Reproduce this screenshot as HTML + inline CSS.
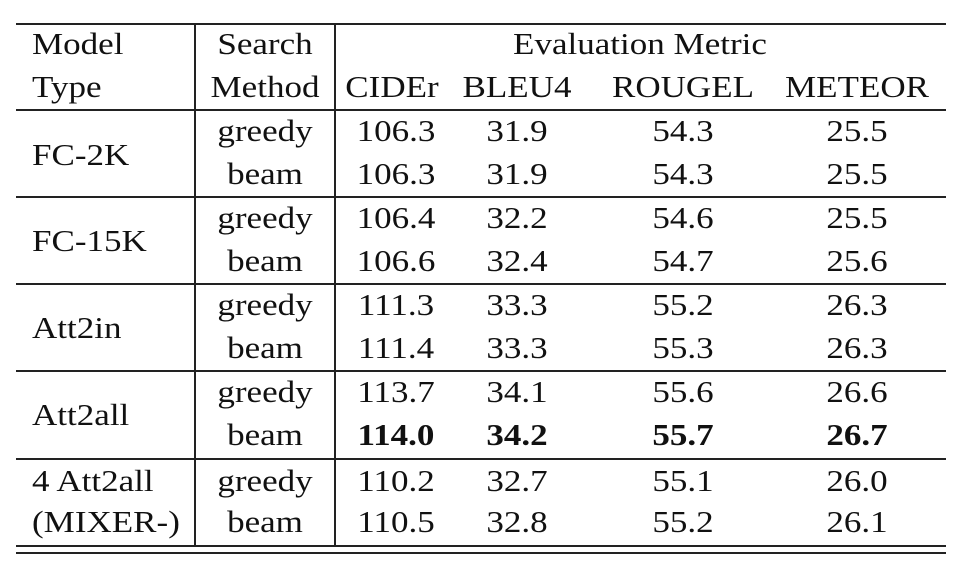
<!DOCTYPE html>
<html><head><style>
body{margin:0;background:#fff;width:964px;height:572px;position:relative;overflow:hidden;font-family:"Liberation Serif",serif;font-size:31px;color:#111}
.l{position:absolute;background:#222}
.t{position:absolute;line-height:30px;white-space:nowrap;transform:translate(-50%,-50%) scaleX(1.13)}
.m{position:absolute;line-height:30px;white-space:nowrap;transform:translateY(-50%) scaleX(1.13);transform-origin:left center;left:32px}
b{font-weight:bold}
</style></head><body>
<div class="l" style="left:16px;top:23px;width:930px;height:2px"></div>
<div class="l" style="left:16px;top:109px;width:930px;height:2px"></div>
<div class="l" style="left:16px;top:196px;width:930px;height:2px"></div>
<div class="l" style="left:16px;top:283px;width:930px;height:2px"></div>
<div class="l" style="left:16px;top:370px;width:930px;height:2px"></div>
<div class="l" style="left:16px;top:458px;width:930px;height:2px"></div>
<div class="l" style="left:16px;top:545px;width:930px;height:2px"></div>
<div class="l" style="left:16px;top:552px;width:930px;height:2px"></div>
<div class="l" style="left:194px;top:23px;width:2px;height:523px"></div>
<div class="l" style="left:334px;top:23px;width:2px;height:523px"></div>

<div class="m" style="top:44px">Model</div>
<div class="m" style="top:87px">Type</div>
<div class="t" style="left:265px;top:44px">Search</div>
<div class="t" style="left:265px;top:87px">Method</div>
<div class="t" style="left:640px;top:44px">Evaluation Metric</div>
<div class="t" style="left:392px;top:87px">CIDEr</div>
<div class="t" style="left:517px;top:87px">BLEU4</div>
<div class="t" style="left:683px;top:87px">ROUGEL</div>
<div class="t" style="left:857px;top:87px">METEOR</div>

<div class="m" style="top:155px">FC-2K</div>
<div class="t" style="left:265px;top:131px">greedy</div>
<div class="t" style="left:265px;top:174px">beam</div>
<div class="t" style="left:396px;top:131px">106.3</div><div class="t" style="left:517px;top:131px">31.9</div><div class="t" style="left:683px;top:131px">54.3</div><div class="t" style="left:857px;top:131px">25.5</div>
<div class="t" style="left:396px;top:174px">106.3</div><div class="t" style="left:517px;top:174px">31.9</div><div class="t" style="left:683px;top:174px">54.3</div><div class="t" style="left:857px;top:174px">25.5</div>

<div class="m" style="top:241px">FC-15K</div>
<div class="t" style="left:265px;top:218px">greedy</div>
<div class="t" style="left:265px;top:261px">beam</div>
<div class="t" style="left:396px;top:218px">106.4</div><div class="t" style="left:517px;top:218px">32.2</div><div class="t" style="left:683px;top:218px">54.6</div><div class="t" style="left:857px;top:218px">25.5</div>
<div class="t" style="left:396px;top:261px">106.6</div><div class="t" style="left:517px;top:261px">32.4</div><div class="t" style="left:683px;top:261px">54.7</div><div class="t" style="left:857px;top:261px">25.6</div>

<div class="m" style="top:328px">Att2in</div>
<div class="t" style="left:265px;top:305px">greedy</div>
<div class="t" style="left:265px;top:348px">beam</div>
<div class="t" style="left:396px;top:305px">111.3</div><div class="t" style="left:517px;top:305px">33.3</div><div class="t" style="left:683px;top:305px">55.2</div><div class="t" style="left:857px;top:305px">26.3</div>
<div class="t" style="left:396px;top:348px">111.4</div><div class="t" style="left:517px;top:348px">33.3</div><div class="t" style="left:683px;top:348px">55.3</div><div class="t" style="left:857px;top:348px">26.3</div>

<div class="m" style="top:415px">Att2all</div>
<div class="t" style="left:265px;top:392px">greedy</div>
<div class="t" style="left:265px;top:435px">beam</div>
<div class="t" style="left:396px;top:392px">113.7</div><div class="t" style="left:517px;top:392px">34.1</div><div class="t" style="left:683px;top:392px">55.6</div><div class="t" style="left:857px;top:392px">26.6</div>
<div class="t" style="left:396px;top:435px"><b>114.0</b></div><div class="t" style="left:517px;top:435px"><b>34.2</b></div><div class="t" style="left:683px;top:435px"><b>55.7</b></div><div class="t" style="left:857px;top:435px"><b>26.7</b></div>

<div class="m" style="top:481px">4 Att2all</div>
<div class="m" style="top:522px">(MIXER-)</div>
<div class="t" style="left:265px;top:481px">greedy</div>
<div class="t" style="left:265px;top:522px">beam</div>
<div class="t" style="left:396px;top:481px">110.2</div><div class="t" style="left:517px;top:481px">32.7</div><div class="t" style="left:683px;top:481px">55.1</div><div class="t" style="left:857px;top:481px">26.0</div>
<div class="t" style="left:396px;top:522px">110.5</div><div class="t" style="left:517px;top:522px">32.8</div><div class="t" style="left:683px;top:522px">55.2</div><div class="t" style="left:857px;top:522px">26.1</div>
</body></html>
